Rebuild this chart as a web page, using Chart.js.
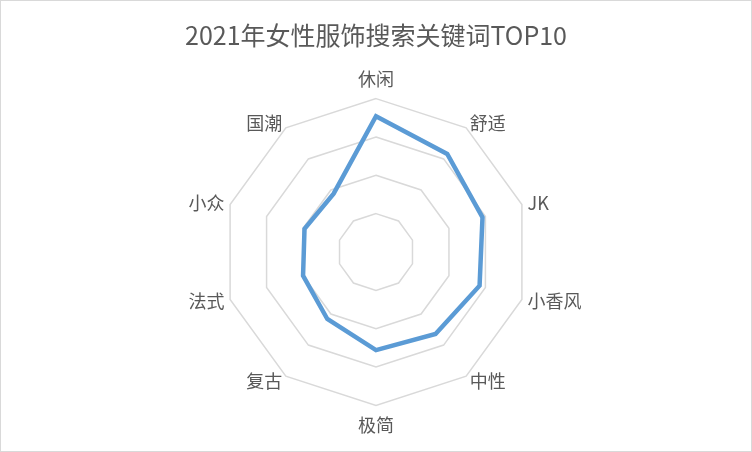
<!DOCTYPE html>
<html>
<head>
<meta charset="utf-8">
<script src="https://cdn.jsdelivr.net/npm/chart.js@4"></script>
<style>
  html, body { margin:0; padding:0; background:#fff; }
  .wrap { width:752px; height:452px; position:relative; box-shadow: inset 0 0 0 1px #d9d9d9; }
</style>
</head>
<body>
<div class="wrap"><canvas id="c"></canvas></div>
<script>
const TITLE = "2021年女性服饰搜索关键词TOP10";
const categories = ["休闲","舒适","JK","小香风","中性","极简","复古","法式","小众","国潮"];
const searchIndex = [88.5, 79, 73, 71, 66, 64, 54, 50, 49, 47];
const scaleMax = 100;
const scaleStep = 25;

const FONT = "'Noto Sans CJK SC', 'Noto Sans', sans-serif";
const textColor = "#595959";

// side labels: centre them on the spoke end like the office chart does
function centreSideLabels(scale){
  const items = scale._pointLabelItems || [];
  const n = items.length;
  items.forEach((it, i) => {
    if (i === 0 || i * 2 === n) return;
    const p = scale.getPointPosition(i, scale.drawingArea + 6);
    const w = it.right - it.left, h = it.bottom - it.top;
    it.x = p.x;
    it.y = p.y - h / 2;
    it.top = it.y; it.bottom = it.y + h;
    it.left = it.textAlign === "right" ? p.x - w : p.x;
    it.right = it.left + w;
  });
}

new Chart(document.getElementById("c"), {
  type:"radar",
  data:{
    labels:categories,
    datasets:[{
      data:searchIndex,
      borderColor:"#5b9bd5", borderWidth:4.5, fill:false,
      pointRadius:0, pointHoverRadius:0, tension:0
    }]
  },
  options:{
    responsive:true, maintainAspectRatio:false, animation:false,
    layout:{ padding:{ top:0, bottom:15, left:0, right:0 } },
    plugins:{
      legend:{ display:false },
      tooltip:{ enabled:false },
      title:{ display:true, text:TITLE, color:textColor,
        font:{ family:FONT, size:25, weight:"normal" }, padding:{ top:20, bottom:18 } }
    },
    scales:{
      r:{
        min:0, max:scaleMax,
        ticks:{ display:false, stepSize:scaleStep },
        angleLines:{ display:false },
        grid:{ color:"#d9d9d9", lineWidth:1.5, circular:false },
        pointLabels:{ color:textColor, padding:9, font:{ family:FONT, size:18 } },
        afterFit:centreSideLabels
      }
    }
  }
});
</script>
</body>
</html>
